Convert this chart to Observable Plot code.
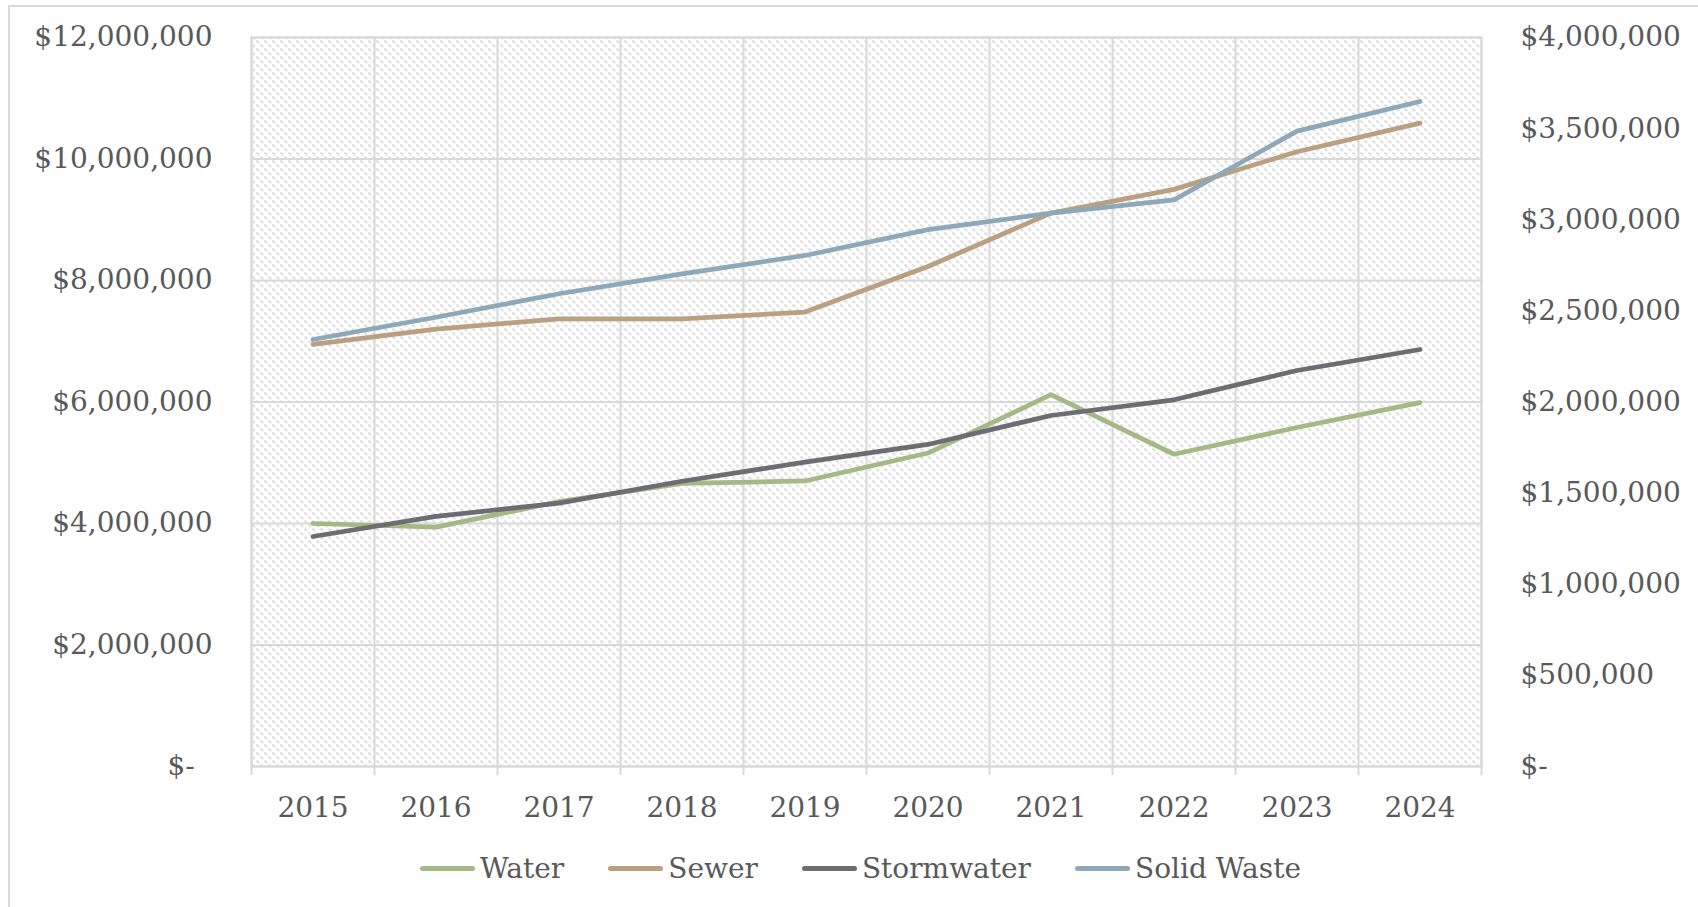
<!DOCTYPE html>
<html><head><meta charset="utf-8">
<script src="https://cdn.jsdelivr.net/npm/d3@7"></script>
<script src="https://cdn.jsdelivr.net/npm/@observablehq/plot@0.6"></script>
<style>
html,body{margin:0;padding:0;background:#fff;width:1698px;height:907px;overflow:hidden;}
#border{position:absolute;left:8px;top:5px;width:1740px;height:960px;border:2px solid #d9d9d9;box-sizing:border-box;}
#chart{position:absolute;left:0;top:0;}
#legend{position:absolute;left:0;top:836px;width:1721px;height:64px;display:flex;justify-content:center;align-items:center;gap:44px;font-family:"DejaVu Serif",serif;font-size:28px;color:#595959;}
.item{display:flex;align-items:center;gap:5px;}
.sw{width:55px;height:5px;border-radius:3px;}
</style>
</head><body>
<div id="border"></div>
<div id="chart"></div>
<div id="legend"></div>
<script>
const years = [2015, 2016, 2017, 2018, 2019, 2020, 2021, 2022, 2023, 2024];
const seriesNames = ["Water", "Sewer", "Stormwater", "Solid Waste"];
const seriesColors = ["#a5b987", "#baa083", "#6e6c73", "#8fa8b9"];
// left axis series
const water = [4.00e6, 3.94e6, 4.36e6, 4.66e6, 4.70e6, 5.16e6, 6.12e6, 5.14e6, 5.58e6, 5.99e6];
const sewer = [6.95e6, 7.20e6, 7.37e6, 7.37e6, 7.48e6, 8.23e6, 9.11e6, 9.50e6, 10.12e6, 10.59e6];
// right (secondary) axis series
const stormwater = [1.262e6, 1.372e6, 1.445e6, 1.565e6, 1.670e6, 1.767e6, 1.926e6, 2.012e6, 2.173e6, 2.288e6];
const solidWaste = [2.343e6, 2.465e6, 2.594e6, 2.703e6, 2.804e6, 2.946e6, 3.036e6, 3.109e6, 3.486e6, 3.649e6];
const leftTicks = [0, 2e6, 4e6, 6e6, 8e6, 10e6, 12e6];
const rightTicks = [0, 5e5, 1e6, 1.5e6, 2e6, 2.5e6, 3e6, 3.5e6, 4e6];

const RATIO = 12e6 / 4e6;
const bounds = d3.range(0, 11).map(i => years[0] - 0.5 + i);

const table = [];
const add = (name, vals, axis) => vals.forEach((v, i) => table.push({series: name, year: years[i], value: v, axis}));
add("Water", water, "left");
add("Sewer", sewer, "left");
add("Stormwater", stormwater, "right");
add("Solid Waste", solidWaste, "right");

const fmt = v => v === 0 ? "$-\u00a0\u00a0" : "$" + d3.format(",")(v);

const defs = () => {
  const ns = "http://www.w3.org/2000/svg";
  const d = document.createElementNS(ns, "defs");
  d.innerHTML = `<pattern id="hatch" patternUnits="userSpaceOnUse" width="8" height="8">
    <rect width="8" height="8" fill="#ffffff"/>
    <path d="M0,0L8,8M-4,4L4,12M4,-4L12,4" stroke="#d0d0d0" stroke-width="1.6" stroke-dasharray="3.6 2.06"/>
  </pattern>`;
  return d;
};

const chart = Plot.plot({
  width: 1698, height: 836,
  marginLeft: 251, marginRight: 217, marginTop: 37, marginBottom: 70,
  x: {type: "linear", domain: [2014.5, 2024.5]},
  y: {domain: [0, 12e6]},
  color: {domain: seriesNames, range: seriesColors},
  style: {fontFamily: "DejaVu Serif, serif", fontSize: "28px", color: "#595959", background: "transparent", overflow: "visible"},
  marks: [
    defs,
    Plot.frame({fill: "url(#hatch)", stroke: null}),
    Plot.gridX(bounds, {stroke: "#d9d9d9", strokeOpacity: 1, strokeWidth: 2}),
    Plot.gridY(leftTicks, {stroke: "#d9d9d9", strokeOpacity: 1, strokeWidth: 2}),
    Plot.frame({stroke: "#d9d9d9", strokeWidth: 2}),
    Plot.axisX(bounds, {tickSize: 9, tickFormat: () => "", stroke: "#d9d9d9", strokeWidth: 2, label: null}),
    Plot.axisX(years, {tickSize: 0, tickPadding: 31, tickFormat: d => String(d), label: null, fill: "#595959"}),
    Plot.axisY(leftTicks, {anchor: "left", tickSize: 0, tickPadding: 39, tickFormat: fmt, label: null, fill: "#595959"}),
    Plot.axisY(rightTicks.map(t => t * RATIO), {anchor: "right", tickSize: 0, tickPadding: 39, tickFormat: d => fmt(Math.round(d / RATIO)), label: null, fill: "#595959"}),
    Plot.line(table, {
      x: "year",
      y: d => d.axis === "right" ? d.value * RATIO : d.value,
      z: "series", stroke: "series",
      strokeWidth: 4.75, strokeLinecap: "round", strokeLinejoin: "round"
    })
  ]
});
document.getElementById("chart").appendChild(chart);

const legend = document.getElementById("legend");
seriesNames.forEach((n, i) => {
  const it = document.createElement("div");
  it.className = "item";
  it.innerHTML = `<span class="sw" style="background:${seriesColors[i]}"></span><span>${n}</span>`;
  legend.appendChild(it);
});
</script>
</body></html>
